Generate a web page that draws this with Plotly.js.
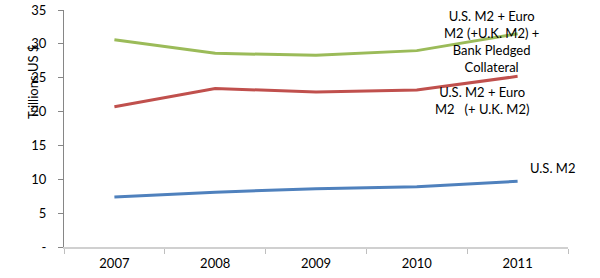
<!DOCTYPE html>
<html>
<head>
<meta charset="utf-8">
<script src="https://cdn.plot.ly/plotly-3.0.1.min.js"></script>
<style>html,body{margin:0;padding:0;background:#fff;}#chart{width:600px;height:278px;}</style>
</head>
<body>
<div id="chart"></div>
<script>
const years = ['2007', '2008', '2009', '2010', '2011'];
const usM2 = [7.4, 8.1, 8.6, 8.9, 9.7];
const usEuroUkM2 = [20.7, 23.4, 22.9, 23.2, 25.2];
const usEuroUkCollateral = [30.6, 28.6, 28.3, 29.0, 31.5];
const yTickVals = [0, 5, 10, 15, 20, 25, 30, 35];
const yTickText = ['-', '5', '10', '15', '20', '25', '30', '35'];

const font = 'Lato, "Open Sans", sans-serif';
const mk = (y, color) => ({
  x: years, y: y, type: 'scatter', mode: 'lines',
  line: {color: color, width: 3}, hoverinfo: 'skip', showlegend: false
});

const data = [
  mk(usM2, '#4F81BD'),
  mk(usEuroUkM2, '#C0504D'),
  mk(usEuroUkCollateral, '#9BBB59')
];

const ann = (text, x, y, extra) => Object.assign({
  text: text, xref: 'paper', yref: 'paper', x: x, y: y,
  xanchor: 'center', yanchor: 'middle', showarrow: false,
  font: {family: font, size: 13, color: '#000'}
}, extra || {});

const layout = {
  width: 600, height: 278,
  margin: {l: 64, r: 32, t: 10, b: 31},
  paper_bgcolor: '#fff', plot_bgcolor: '#fff',
  font: {family: font, size: 13, color: '#000'},
  xaxis: {
    type: 'category', tickson: 'boundaries', ticks: 'outside', ticklen: 5,
    tickcolor: '#bfbfbf', showline: true, linecolor: '#d0d0d0', linewidth: 2,
    showgrid: false, zeroline: false, range: [-0.5, 4.5], fixedrange: true,
    ticklabelstandoff: 3,
    tickfont: {family: font, size: 13, color: '#000'}
  },
  yaxis: {
    range: [0, 35], tickvals: yTickVals, ticktext: yTickText,
    ticks: 'outside', ticklen: 5, tickcolor: '#868686',
    showline: true, linecolor: '#868686', linewidth: 1,
    showgrid: false, zeroline: false, ticklabelstandoff: 9,
    tickfont: {family: font, size: 13, color: '#000'}
  },
  annotations: [
    ann('Trillions US $', -0.0615, 0.696, {textangle: -90}),
    ann('U.S. M2 + Euro<br>M2 (+U.K. M2) +<br>Bank Pledged<br>Collateral', 0.849, 0.869),
    ann('U.S. M2 + Euro<br>M2&nbsp;&nbsp; (+ U.K. M2)', 0.829, 0.62),
    ann('U.S. M2', 0.970, 0.333)
  ]
};

Plotly.newPlot('chart', data, layout, {displayModeBar: false, staticPlot: true});
</script>
</body>
</html>
